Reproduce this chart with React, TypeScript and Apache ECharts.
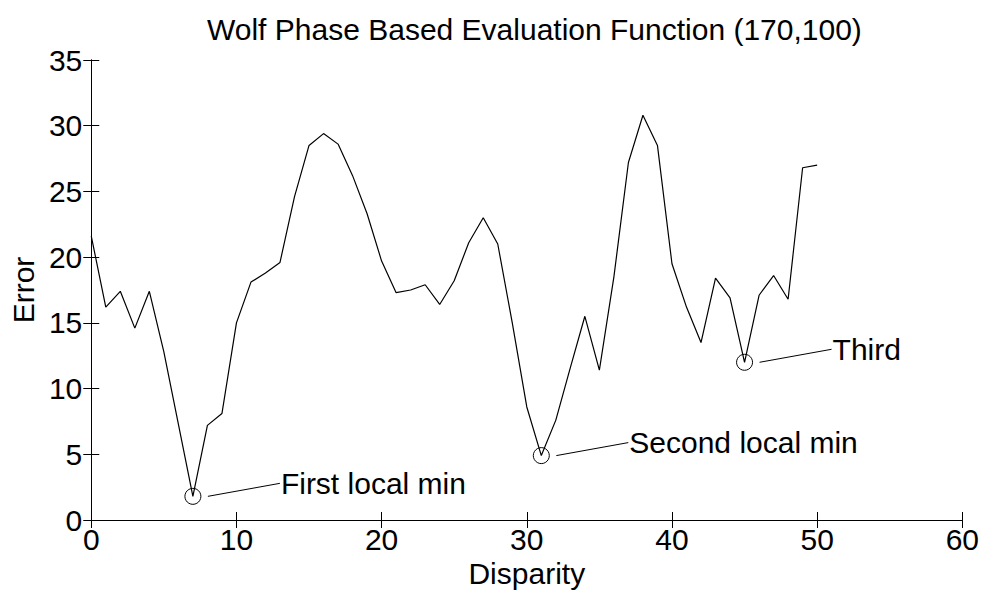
import React, { useEffect, useRef } from "react";
import * as echarts from "echarts";

const titleText = "Wolf Phase Based Evaluation Function (170,100)";
const xName = "Disparity";
const yName = "Error";

const disparity: number[] = Array.from({ length: 51 }, (_, i) => i);
const errorValues: number[] = [
  21.6, 16.2, 17.4, 14.6, 17.4, 12.8, 7.3, 1.8, 7.2, 8.1,
  15.0, 18.1, 18.8, 19.6, 24.6, 28.5, 29.4, 28.6, 26.2, 23.3,
  19.7, 17.3, 17.5, 17.9, 16.4, 18.2, 21.1, 23.0, 21.0, 15.0,
  8.6, 4.9, 7.6, 11.6, 15.5, 11.4, 18.5, 27.2, 30.8, 28.5,
  19.5, 16.2, 13.5, 18.4, 16.9, 12.0, 17.1, 18.6, 16.8, 26.8,
  27.0,
];

const annotIndex: number[] = [7, 31, 45];
const annotLabels: string[] = ["First local min", "Second local min", "Third"];

const FONT = "'Liberation Sans', Arial, Helvetica, sans-serif";

export default function App() {
  const ref = useRef<HTMLDivElement>(null);
  useEffect(() => {
    if (!ref.current) return;
    const chart = echarts.init(ref.current, null, { renderer: "svg" });
    const lineData = disparity.map((d, i) => [d, errorValues[i]]);
    const annotData = annotIndex.map((i) => [disparity[i], errorValues[i]]);
    const axisLine = { show: true, lineStyle: { color: "#000", width: 1 } };
    const tickIn = { show: true, inside: true, length: 8, lineStyle: { color: "#000", width: 1 } };
    chart.setOption({
      animation: false,
      backgroundColor: "#fff",
      textStyle: { fontFamily: FONT },
      title: {
        text: titleText,
        left: 202,
        top: 9,
        textStyle: { fontSize: 30, fontWeight: "normal", color: "#000", fontFamily: FONT },
      },
      grid: { left: 89, right: 19, top: 60, bottom: 77, containLabel: false },
      xAxis: [
        {
          type: "value",
          min: 0,
          max: 60,
          interval: 10,
          position: "bottom",
          name: xName,
          nameLocation: "middle",
          nameGap: 29,
          nameTextStyle: { fontSize: 30, color: "#000", fontFamily: FONT },
          axisLine,
          axisTick: tickIn,
          axisLabel: { fontSize: 30, color: "#000", margin: 4, fontFamily: FONT },
          splitLine: { show: false },
        },
        {
          type: "value",
          min: 0,
          max: 60,
          interval: 10,
          position: "top",
          axisLine,
          axisTick: tickIn,
          axisLabel: { show: false },
          splitLine: { show: false },
        },
      ],
      yAxis: [
        {
          type: "value",
          min: 0,
          max: 35,
          interval: 5,
          position: "left",
          name: yName,
          nameLocation: "middle",
          nameGap: 53,
          nameTextStyle: { fontSize: 30, color: "#000", fontFamily: FONT },
          axisLine,
          axisTick: tickIn,
          axisLabel: { fontSize: 30, color: "#000", margin: 9, fontFamily: FONT },
          splitLine: { show: false },
        },
        {
          type: "value",
          min: 0,
          max: 35,
          interval: 5,
          position: "right",
          axisLine,
          axisTick: tickIn,
          axisLabel: { show: false },
          splitLine: { show: false },
        },
      ],
      series: [
        {
          type: "line",
          data: lineData,
          showSymbol: false,
          symbol: "none",
          lineStyle: { color: "#000", width: 1.2 },
          silent: true,
        },
        {
          type: "custom",
          data: annotData,
          clip: false,
          silent: true,
          renderItem: (params: any, api: any) => {
            const p = api.coord([api.value(0), api.value(1)]);
            const label = annotLabels[params.dataIndex];
            return {
              type: "group",
              children: [
                {
                  type: "circle",
                  shape: { cx: p[0], cy: p[1], r: 8 },
                  style: { fill: "none", stroke: "#000", lineWidth: 1 },
                },
                {
                  type: "line",
                  shape: { x1: p[0] + 15, y1: p[1], x2: p[0] + 87, y2: p[1] - 13 },
                  style: { stroke: "#000", lineWidth: 1 },
                },
                {
                  type: "text",
                  x: p[0] + 88,
                  y: p[1] - 13,
                  style: {
                    text: label,
                    fontSize: 30,
                    fontFamily: FONT,
                    fill: "#000",
                    align: "left",
                    verticalAlign: "middle",
                  },
                },
              ],
            };
          },
        },
      ],
    });
    return () => chart.dispose();
  }, []);
  return (
    <div
      ref={ref}
      style={{ position: "fixed", left: 0, top: 0, width: 982, height: 597, background: "#fff" }}
    />
  );
}
